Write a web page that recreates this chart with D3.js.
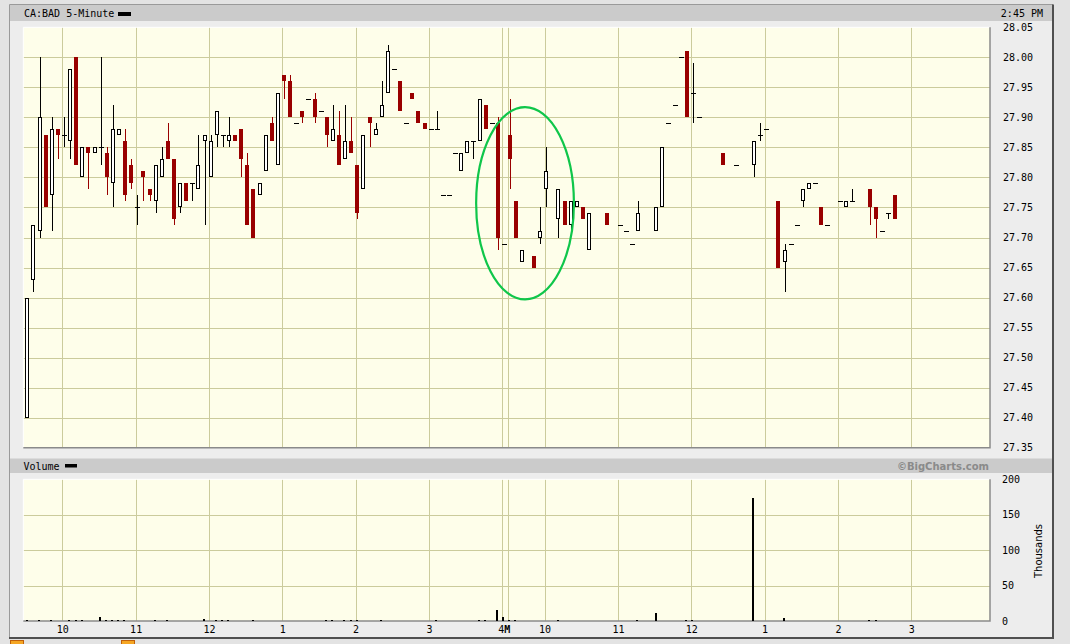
<!DOCTYPE html>
<html><head><meta charset="utf-8">
<script src="https://cdn.jsdelivr.net/npm/d3@7"></script>
<style>html,body{margin:0;padding:0;background:#e3e3e3;overflow:hidden}svg{display:block}</style>
</head><body>
<svg id="c" width="1070" height="644"></svg>
<script>
// ---------------- DATA ----------------
const title = "CA:BAD 5-Minute";
const lastTime = "2:45 PM";
const priceTicks = [28.05,28.00,27.95,27.90,27.85,27.80,27.75,27.70,27.65,27.60,27.55,27.50,27.45,27.40,27.35];
const volumeTicks = [0,50,100,150,200];
const hourTickTimes = ["10:00","11:00","12:00","13:00","14:00","15:00"];
const hourTickLabels = ["10","11","12","1","2","3"];

// Session 1 (previous day) 5-minute bars
const d1Time = ["09:30","09:35","09:40","09:45","09:50","09:55",
 "10:00","10:05","10:10","10:15","10:20","10:25","10:30","10:35","10:40","10:45","10:50","10:55",
 "11:00","11:05","11:10","11:15","11:20","11:25","11:30","11:35","11:40","11:45","11:50","11:55",
 "12:00","12:05","12:10","12:15","12:20","12:25","12:30","12:35","12:40","12:45","12:50","12:55",
 "13:00","13:05","13:10","13:15","13:20","13:25","13:30","13:35","13:40","13:45","13:50","13:55",
 "14:00","14:05","14:10","14:15","14:20","14:25","14:30","14:35","14:40","14:45","14:50","14:55",
 "15:00","15:05","15:10","15:15","15:20","15:25","15:30","15:35","15:40","15:45","15:50","15:55",
 "16:00"];
const d1Open = [27.40,27.63,27.71,27.87,27.77,27.88,27.87,27.86,28.00,27.80,
 27.85,27.84,27.85,27.84,27.79,27.87,27.86,27.82,27.75,27.81,
 27.78,27.76,27.80,27.86,27.83,27.75,27.79,27.79,27.78,27.86,
 27.80,27.87,27.87,27.86,27.87,27.88,27.82,27.78,27.77,27.81,
 27.89,27.82,27.97,27.96,27.89,27.91,27.93,27.93,27.91,27.90,
 27.86,27.87,27.83,27.86,27.82,27.78,27.90,27.87,27.90,27.94,
 27.98,27.96,27.89,27.94,27.91,27.89,27.88,27.88,27.77,27.77,
 27.84,27.81,27.84,27.86,27.86,27.92,27.89,27.89,27.69];
const d1High = [27.60,27.72,28.00,27.87,27.90,27.88,27.90,27.98,28.00,27.85,
 27.85,27.85,28.00,27.85,27.92,27.88,27.88,27.83,27.77,27.81,
 27.78,27.82,27.85,27.89,27.83,27.79,27.79,27.79,27.87,27.87,
 27.87,27.91,27.87,27.90,27.87,27.88,27.84,27.78,27.79,27.87,
 27.90,27.94,27.97,27.97,27.89,27.91,27.93,27.94,27.91,27.90,
 27.92,27.91,27.92,27.90,27.82,27.87,27.90,27.89,27.96,28.02,
 27.98,27.96,27.89,27.94,27.91,27.89,27.88,27.91,27.77,27.77,
 27.84,27.84,27.86,27.86,27.93,27.92,27.89,27.90,27.69];
const d1Low = [27.40,27.61,27.70,27.75,27.71,27.83,27.85,27.83,27.82,27.80,
 27.78,27.84,27.82,27.77,27.75,27.87,27.76,27.78,27.72,27.76,
 27.76,27.74,27.80,27.83,27.72,27.74,27.76,27.76,27.78,27.72,
 27.80,27.85,27.85,27.85,27.86,27.80,27.72,27.70,27.77,27.81,
 27.86,27.82,27.93,27.90,27.89,27.89,27.93,27.89,27.91,27.85,
 27.86,27.82,27.83,27.84,27.73,27.78,27.85,27.87,27.90,27.94,
 27.98,27.91,27.89,27.93,27.89,27.88,27.88,27.88,27.77,27.77,
 27.84,27.81,27.84,27.83,27.86,27.88,27.89,27.68,27.69];
const d1Close = [27.60,27.72,27.90,27.75,27.88,27.87,27.87,27.98,27.82,27.85,
 27.84,27.85,27.85,27.80,27.88,27.88,27.77,27.79,27.75,27.80,
 27.77,27.82,27.83,27.83,27.73,27.79,27.76,27.79,27.82,27.87,
 27.86,27.91,27.87,27.87,27.86,27.83,27.72,27.70,27.79,27.87,
 27.86,27.94,27.96,27.90,27.89,27.90,27.93,27.90,27.91,27.87,
 27.88,27.82,27.86,27.84,27.74,27.87,27.89,27.88,27.92,28.01,
 27.98,27.91,27.89,27.93,27.89,27.88,27.88,27.88,27.77,27.77,
 27.84,27.84,27.86,27.86,27.93,27.88,27.89,27.70,27.69];
const d1Volume = [1.5,0.4,1.5,0.4,1.5,0.4,0.4,1.5,1.5,1.5,
 0.4,0.4,5.7,1.5,1.5,1.5,1.5,0.4,0.4,0.4,
 0.4,1.5,0.4,1.5,0.4,0.4,0.4,0.4,0.4,3.0,
 0.4,1.5,1.5,1.5,0.4,0.4,0.4,1.5,0.4,0.4,
 0.4,0.4,0.4,0.4,0.4,0.4,0.4,0.4,0.4,1.5,
 1.5,0.4,1.5,1.5,1.5,0.4,0.4,0.4,1.5,0.4,
 0.4,0.4,0.4,0.4,0.4,0.4,0.4,1.5,0.4,0.4,
 0.4,0.4,0.4,0.4,1.5,1.5,0.4,15.6,6.1];

// Session 2 (current day) 5-minute bars
const d2Time = ["09:30","09:35","09:40","09:50","09:55","10:00","10:10","10:15","10:20","10:25",
 "10:30","10:35","10:50","11:00","11:05","11:10","11:15","11:30","11:35","11:40",
 "11:45","11:50","11:55","12:00","12:05","12:25","12:35","12:50","12:55","13:00",
 "13:10","13:15","13:20","13:25","13:30","13:35","13:40","13:45","13:50","14:00",
 "14:05","14:10","14:25","14:30","14:35","14:40","14:45"];
const d2Open = [27.87,27.76,27.66,27.67,27.70,27.78,27.73,27.76,27.72,27.75,
 27.75,27.68,27.74,27.72,27.71,27.69,27.71,27.71,27.75,27.89,
 27.92,28.00,28.01,27.94,27.90,27.84,27.82,27.82,27.87,27.88,
 27.76,27.66,27.69,27.72,27.76,27.78,27.79,27.75,27.72,27.76,
 27.75,27.76,27.78,27.75,27.71,27.74,27.77];
const d2High = [27.93,27.76,27.68,27.67,27.75,27.85,27.78,27.76,27.76,27.76,
 27.75,27.74,27.74,27.72,27.71,27.69,27.76,27.75,27.85,27.89,
 27.92,28.00,28.01,27.99,27.90,27.84,27.82,27.86,27.89,27.88,
 27.76,27.69,27.69,27.72,27.78,27.79,27.79,27.75,27.72,27.76,
 27.76,27.78,27.78,27.75,27.71,27.74,27.77];
const d2Low = [27.78,27.70,27.66,27.65,27.69,27.75,27.70,27.72,27.71,27.75,
 27.73,27.68,27.72,27.72,27.71,27.69,27.71,27.71,27.75,27.89,
 27.92,28.00,27.90,27.89,27.90,27.82,27.82,27.80,27.86,27.88,
 27.65,27.61,27.69,27.72,27.75,27.78,27.79,27.72,27.72,27.76,
 27.75,27.76,27.72,27.70,27.71,27.73,27.73];
const d2Close = [27.83,27.70,27.68,27.65,27.71,27.81,27.78,27.72,27.76,27.76,
 27.73,27.74,27.72,27.72,27.71,27.69,27.74,27.75,27.85,27.89,
 27.92,28.00,27.90,27.94,27.90,27.82,27.82,27.86,27.87,27.88,
 27.65,27.68,27.69,27.72,27.78,27.79,27.79,27.72,27.72,27.76,
 27.76,27.76,27.75,27.73,27.71,27.74,27.73];
const d2Volume = [2.0,1.5,0.4,0.4,0.4,0.4,1.5,0.4,0.4,0.4,
 0.4,0.4,0.4,0.4,0.4,0.4,1.5,11.3,0.4,0.4,
 0.4,0.4,1.5,1.5,0.4,0.4,0.4,174,0.4,0.4,
 0.4,3.8,0.4,0.4,0.4,0.4,0.4,0.4,0.4,0.4,
 0.4,0.4,1.5,1.5,0.4,0.4,0.4];

// Highlight ellipse (annotation) in data units
const highlight = {session:1, time:"09:44", price:27.757, halfMinutes:40, halfPrice:0.16};

// ---------------- LAYOUT ----------------
const sessionStart = [0, 394.6]; // compressed-axis minute where each session opens
function tOf(s, hhmm){ const [h,m] = hhmm.split(":").map(Number); return sessionStart[s] + h*60 + m - 570; }

const P = {left:23.3, right:990, top:27.3, bottom:447.7};
const V = {top:479.3, bottom:621};
const x = d3.scaleLinear().domain([0, 390]).range([25.65, 502.3]);
const y = d3.scaleLinear().domain([27.35, 28.05]).range([P.bottom, P.top]);
const yv = d3.scaleLinear().domain([0, 200]).range([V.bottom, V.top]);
const barShift = 1.65;

const bars = [];
d1Time.forEach((tm,i)=>bars.push({t:tOf(0,tm), o:d1Open[i], h:d1High[i], l:d1Low[i], c:d1Close[i], v:d1Volume[i]}));
d2Time.forEach((tm,i)=>bars.push({t:tOf(1,tm), o:d2Open[i], h:d2High[i], l:d2Low[i], c:d2Close[i], v:d2Volume[i]}));

const vLines = [];
[0,1].forEach(s => hourTickTimes.forEach(tm => vLines.push(tOf(s,tm))));
vLines.push(tOf(0,"16:00"), tOf(1,"09:30"));

const mono = "'DejaVu Sans Mono', monospace";
const svg = d3.select("#c");
const GRID = "#cbcb9c", BG = "#fefeea", RED = "#990000";

// outer + frame
svg.append("rect").attr("width",1070).attr("height",644).attr("fill","#e3e3e3");
svg.append("rect").attr("x",10).attr("y",5).attr("width",1043).attr("height",632).attr("fill","#ededed");
svg.append("path").attr("d","M9.5,637V4.5H1053").attr("stroke","#9a9a9a").attr("fill","none");
svg.append("path").attr("d","M1053,4.5V638H9").attr("stroke","#505050").attr("stroke-width",2).attr("fill","none");

// header bars
svg.append("rect").attr("x",10).attr("y",5).attr("width",1042).attr("height",16).attr("fill","#cbcbcb");
svg.append("text").attr("x",24).attr("y",17).attr("font-family",mono).attr("font-size",10).text(title);
svg.append("rect").attr("x",118).attr("y",12).attr("width",13).attr("height",4).attr("fill","#000");
svg.append("text").attr("x",1043).attr("y",17).attr("text-anchor","end").attr("font-family",mono).attr("font-size",10).text(lastTime);

svg.append("rect").attr("x",10).attr("y",458.5).attr("width",1042).attr("height",14.5).attr("fill","#cbcbcb");
svg.append("text").attr("x",23.5).attr("y",469.5).attr("font-family",mono).attr("font-size",10).text("Volume");
svg.append("rect").attr("x",65).attr("y",464).attr("width",12).attr("height",3.5).attr("fill","#000");
svg.append("text").attr("x",989).attr("y",470).attr("text-anchor","end").attr("font-family","'DejaVu Sans', sans-serif")
  .attr("font-weight","bold").attr("font-size",10).attr("fill","#8a8a8a").text("\u00A9BigCharts.com");

// panels
function panel(top, bottom){
  const g = svg.append("g");
  g.append("rect").attr("x",P.left).attr("y",top).attr("width",P.right-P.left).attr("height",bottom-top).attr("fill",BG);
  return g;
}
const gp = panel(P.top, P.bottom);
const gv = panel(V.top, V.bottom);

// grid - price
gp.selectAll(".hg").data(priceTicks.filter(d=>d<28.04 && d>27.36)).enter().append("line")
  .attr("x1",P.left).attr("x2",P.right).attr("y1",d=>Math.round(y(d))+0.5).attr("y2",d=>Math.round(y(d))+0.5)
  .attr("stroke",GRID);
gp.selectAll(".vg").data(vLines).enter().append("line")
  .attr("x1",d=>Math.round(x(d))+0.5).attr("x2",d=>Math.round(x(d))+0.5).attr("y1",P.top).attr("y2",P.bottom)
  .attr("stroke",GRID);
// grid - volume
gv.selectAll(".hg").data(volumeTicks.filter(d=>d>0 && d<200)).enter().append("line")
  .attr("x1",P.left).attr("x2",P.right).attr("y1",d=>Math.round(yv(d))+0.5).attr("y2",d=>Math.round(yv(d))+0.5)
  .attr("stroke",GRID);
gv.selectAll(".vg").data(vLines).enter().append("line")
  .attr("x1",d=>Math.round(x(d))+0.5).attr("x2",d=>Math.round(x(d))+0.5).attr("y1",V.top).attr("y2",V.bottom)
  .attr("stroke",GRID);

// panel borders
[[P.top,P.bottom],[V.top,V.bottom]].forEach(([t,b])=>{
  svg.append("path").attr("d",`M${P.left},${b}V${t}H${P.right}`).attr("stroke","#ffffff").attr("fill","none");
  svg.append("path").attr("d",`M${P.right},${t}V${b}H${P.left}`).attr("stroke","#8a8a8a").attr("stroke-width",1.5).attr("fill","none");
});

// candles
const gc = svg.append("g").attr("shape-rendering","crispEdges");
bars.forEach(b=>{
  const cx = x(b.t) + barShift;
  const x0 = Math.round(cx - 2);
  const down = b.c < b.o, up = b.c > b.o;
  const col = down ? RED : "#000";
  const yTop = Math.round(y(Math.max(b.o,b.c))), yBot = Math.round(y(Math.min(b.o,b.c)));
  const wx = x0 + 2.5;
  if (b.h > Math.max(b.o,b.c)) gc.append("line").attr("x1",wx).attr("x2",wx).attr("y1",Math.round(y(b.h))).attr("y2",yTop).attr("stroke",col);
  if (b.l < Math.min(b.o,b.c)) gc.append("line").attr("x1",wx).attr("x2",wx).attr("y1",yBot).attr("y2",Math.round(y(b.l))).attr("stroke",col);
  if (up) {
    gc.append("rect").attr("x",x0+0.5).attr("y",yTop+0.5).attr("width",3).attr("height",Math.max(1,yBot-yTop-1))
      .attr("fill","#ffffff").attr("stroke","#000");
  } else if (down) {
    gc.append("rect").attr("x",x0).attr("y",yTop).attr("width",4).attr("height",Math.max(1,yBot-yTop)).attr("fill",RED);
  } else {
    gc.append("line").attr("x1",x0).attr("x2",x0+5).attr("y1",yTop+0.5).attr("y2",yTop+0.5).attr("stroke","#000");
  }
});

// volume bars
gc.selectAll(".vb").data(bars).enter().append("rect")
  .attr("x",d=>Math.round(x(d.t))).attr("width",2)
  .attr("y",d=>V.bottom - Math.round(V.bottom - yv(d.v)))
  .attr("height",d=>Math.round(V.bottom - yv(d.v)))
  .attr("fill","#000");

// highlight ellipse
svg.append("ellipse")
  .attr("cx", x(tOf(highlight.session, highlight.time)))
  .attr("cy", y(highlight.price))
  .attr("rx", x(highlight.halfMinutes) - x(0))
  .attr("ry", y(27.35) - y(27.35 + highlight.halfPrice))
  .attr("fill","none").attr("stroke","#0fc64a").attr("stroke-width",2.2);

// right price axis
const fmt = d3.format(".2f");
svg.append("g").selectAll("text").data(priceTicks).enter().append("text")
  .attr("x",1003).attr("y",d=>y(d)+3.6).attr("font-family",mono).attr("font-size",10).text(d=>fmt(d));
// volume axis
svg.append("g").selectAll("text").data(volumeTicks).enter().append("text")
  .attr("x",1002).attr("y",d=>yv(d)+3.6).attr("font-family",mono).attr("font-size",10).text(d=>d);
svg.append("text").attr("transform","translate(1041.5,551) rotate(-90)").attr("text-anchor","middle")
  .attr("font-family","'DejaVu Sans', sans-serif").attr("font-size",10).text("Thousands");

// bottom time axis
const tickData = [];
[0,1].forEach(s => hourTickTimes.forEach((tm,k)=>tickData.push({t:tOf(s,tm), label:hourTickLabels[k]})));
svg.append("g").selectAll("text").data(tickData).enter().append("text")
  .attr("x",d=>x(d.t)+0.5).attr("y",633).attr("text-anchor","middle").attr("font-family",mono).attr("font-size",10)
  .text(d=>d.label);
const t4 = svg.append("text").attr("x",x(tOf(0,"16:00"))-4).attr("y",633).attr("font-family",mono).attr("font-size",10);
t4.append("tspan").text("4");
t4.append("tspan").attr("font-weight","bold").text("M");

// small orange icons at the bottom edge
[[10,640],[121,640]].forEach(([ix,iy])=>{
  svg.append("rect").attr("x",ix+0.5).attr("y",iy+0.5).attr("width",13).attr("height",12)
    .attr("fill","#f5a623").attr("stroke","#c0600a");
});
</script>
</body></html>
